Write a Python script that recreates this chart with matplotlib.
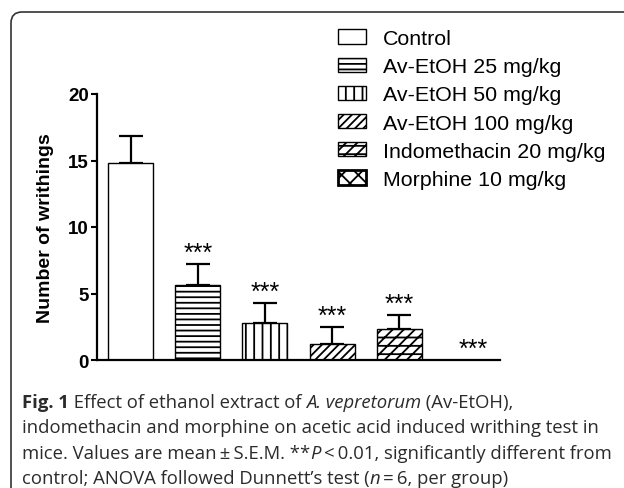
import numpy as np
import matplotlib
matplotlib.use('Agg')
import matplotlib.pyplot as plt
from matplotlib.patches import FancyBboxPatch
from matplotlib.transforms import IdentityTransform

# data
groups = ['Control', 'Av-EtOH 25 mg/kg', 'Av-EtOH 50 mg/kg', 'Av-EtOH 100 mg/kg',
          'Indomethacin 20 mg/kg', 'Morphine 10 mg/kg']
means = [14.8, 5.65, 2.8, 1.2, 2.33, 0.0]
sems = [2.05, 1.55, 1.5, 1.25, 1.07, 0.0]
stars = ['', '***', '***', '***', '***', '***']
hatches = ['', '---', '||', '////', '///--', 'xx']
yticks = [0, 5, 10, 15, 20]

ts = '\u2009'  # thin space
caption = [
    [('Fig. 1', 'bold', 'normal'), (' Effect of ethanol extract of ', 'normal', 'normal'),
     ('A. vepretorum', 'normal', 'italic'), (' (Av-EtOH),', 'normal', 'normal')],
    [('indomethacin and morphine on acetic acid induced writhing test in', 'normal', 'normal')],
    [('mice. Values are mean' + ts + '\u00b1' + ts + 'S.E.M. **', 'normal', 'normal'),
     ('P', 'normal', 'italic'),
     (ts + '<' + ts + '0.01, significantly different from', 'normal', 'normal')],
    [('control; ANOVA followed Dunnett\u2019s test (', 'normal', 'normal'), ('n', 'normal', 'italic'),
     (ts + '=' + ts + '6, per group)', 'normal', 'normal')],
]

W, H = 624, 489
plt.rcParams['font.family'] = ['Liberation Sans', 'DejaVu Sans']
plt.rcParams['hatch.linewidth'] = 1.3

fig = plt.figure(figsize=(W / 100, H / 100), dpi=100)
ax = fig.add_axes([97 / W, 1 - 361 / H, (500 - 97) / W, (361 - 95) / H])

x = np.arange(len(groups))
bars = []
for i in range(len(groups)):
    lw = 2.0 if i == 5 else 1.0
    b = ax.bar(x[i], means[i], width=0.67, color='white', edgecolor='black',
               linewidth=lw, hatch=hatches[i], zorder=2)
    bars.append(b)

err = np.array(sems)
ax.errorbar(x[:5], means[:5], yerr=[np.zeros(5), err[:5]], fmt='none', ecolor='black',
            elinewidth=1.6, capsize=8.5, capthick=1.6, zorder=1)

for i in range(len(groups)):
    if stars[i]:
        ax.text(x[i] + (0.1 if means[i] == 0 else 0), means[i] + sems[i] - 0.05, stars[i],
                ha='center', va='bottom', fontsize=18)

ax.set_xlim(-0.5, 5.5)
ax.set_ylim(0, 20)
ax.set_yticks(yticks)
ax.set_xticks([])
for lab in ax.get_yticklabels():
    lab.set_fontweight('bold')
ax.tick_params(axis='y', labelsize=13.5, length=4, width=1.5, pad=2)
ax.spines['top'].set_visible(False)
ax.spines['right'].set_visible(False)
ax.spines['left'].set_linewidth(1.6)
ax.spines['bottom'].set_linewidth(1.6)
ax.set_ylabel('Number of writhings', fontsize=14, fontweight='bold', labelpad=10)

leg = fig.legend(handles=bars, labels=groups, loc='upper left',
                 bbox_to_anchor=(338 / W, 1 - 30 / H), frameon=False, fontsize=15.4,
                 handlelength=1.3, handleheight=0.65, handletextpad=0.8,
                 labelspacing=0.43, borderpad=0, borderaxespad=0)

# rounded frame of the journal figure
frame = FancyBboxPatch((11, -40), 2000, (H - 13) + 40,
                       boxstyle='round,pad=0,rounding_size=11',
                       transform=IdentityTransform(), fill=False,
                       edgecolor='#333333', linewidth=1.2)
fig.add_artist(frame)

# caption with mixed styles
renderer = fig.canvas.get_renderer()
cap_size = 13.3
cap_col = '#2b2b2b'
ys = [403, 428.5, 454, 479.5]
for line, yy in zip(caption, ys):
    xx = 22
    for txt, wt, st in line:
        t = fig.text(xx / W, 1 - yy / H, txt, fontsize=cap_size, fontweight=wt, fontstyle=st,
                     family=['Open Sans', 'DejaVu Sans'], color=cap_col, va='center')
        probe = fig.text(0, 0, txt + '|', fontsize=cap_size, fontweight=wt, fontstyle=st,
                         family=['Open Sans', 'DejaVu Sans'])
        bar_probe = fig.text(0, 0, '|', fontsize=cap_size, fontweight=wt, fontstyle=st,
                             family=['Open Sans', 'DejaVu Sans'])
        wdt = probe.get_window_extent(renderer).width - bar_probe.get_window_extent(renderer).width
        probe.remove()
        bar_probe.remove()
        xx += wdt

fig.savefig('out.png', dpi=100)
